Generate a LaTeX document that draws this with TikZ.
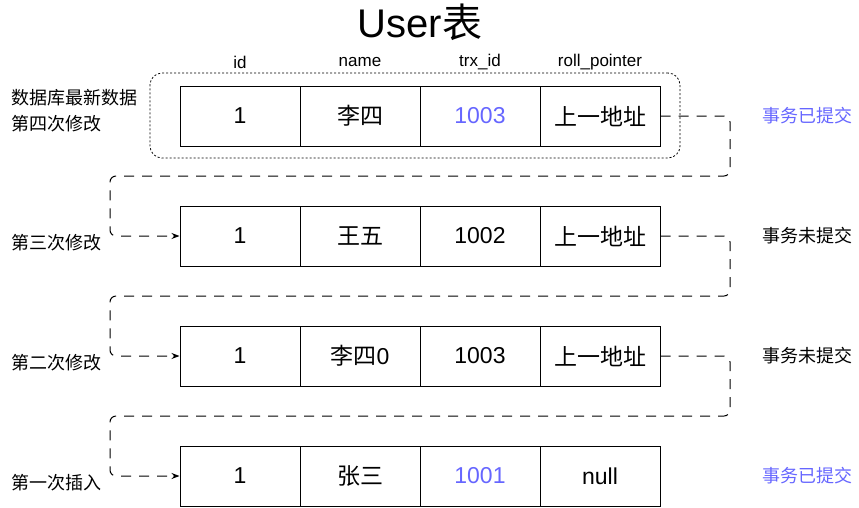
\documentclass[tikz,border=0pt]{standalone}
\usepackage{fontspec}
\setmainfont{Liberation Sans}
\newfontfamily\cjk{Noto Sans CJK SC}
\usetikzlibrary{arrows.meta}
\definecolor{blu}{HTML}{6666FF}
\begin{document}
\begin{tikzpicture}[x=1pt,y=-1pt,
  cell/.style={draw,line width=1pt,minimum width=120pt,minimum height=60pt,inner sep=0pt,font=\fontsize{23}{26}\selectfont},
  hdr/.style={font=\fontsize{17}{19}\selectfont,inner sep=0pt},
  lbl/.style={font=\cjk\fontsize{18}{26}\selectfont,inner sep=0pt,align=left},
  conn/.style={line width=1pt,dash pattern=on 10pt off 8pt,rounded corners=6pt},
  arr/.style={-{Stealth[length=8pt,width=6pt]}}]
\useasboundingbox (0,0) rectangle (859,507);
\node[font=\fontsize{40}{44}\selectfont,inner sep=0pt] (title) at (420,22) {User{\cjk 表}};
\node[hdr] (h1) at (240,62) {id};
\node[hdr] (h2) at (360,62) {name};
\node[hdr] (h3) at (480,62) {trx\_id};
\node[hdr] (h4) at (600,62) {roll\_pointer};
% dotted box
\node[draw,line width=0.8pt,dash pattern=on 2pt off 2pt,rounded corners=12pt,minimum width=530pt,minimum height=85pt,inner sep=0pt] (latest) at (415,115.5) {};
% rows
\foreach \r/\y/\nm/\tx/\tc/\pt in {1/116/{\cjk 李四}/1003/blu/{\cjk 上一地址},2/236/{\cjk 王五}/1002/black/{\cjk 上一地址},3/356/{{\cjk 李四}0}/1003/black/{\cjk 上一地址},4/476/{\cjk 张三}/1001/blu/null}{
  \node[cell] (r\r c1) at (240,\y) {1};
  \node[cell] (r\r c2) at (360,\y) {\nm};
  \node[cell,text=\tc] (r\r c3) at (480,\y) {\tx};
  \node[cell] (r\r c4) at (600,\y) {\pt};
}
% left labels
\node[lbl,anchor=west] (l1) at (11,111) {数据库最新数据\\第四次修改};
\node[lbl,anchor=west] (l2) at (11,243) {第三次修改};
\node[lbl,anchor=west] (l3) at (11,363) {第二次修改};
\node[lbl,anchor=west] (l4) at (11,483) {第一次插入};
% right labels
\node[lbl,anchor=west,text=blu] (s1) at (762,116) {事务已提交};
\node[lbl,anchor=west] (s2) at (762,236) {事务未提交};
\node[lbl,anchor=west] (s3) at (762,356) {事务未提交};
\node[lbl,anchor=west,text=blu] (s4) at (762,476) {事务已提交};
% connectors
\foreach \a/\b/\y/\yb in {1/2/116/176,2/3/236/296,3/4/356/416}{
  \draw[conn,arr] (r\a c4.east) -- (730,\y) -- (730,\yb) -- (110,\yb) -- (110,\y+120) -- (r\b c1.west);
}
\end{tikzpicture}
\end{document}
